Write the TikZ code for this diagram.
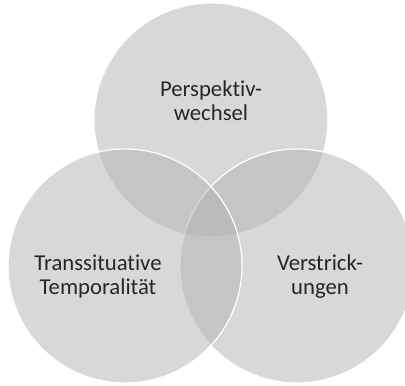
\documentclass[tikz,border=0pt]{standalone}
\usepackage{fontspec}
\setmainfont{Carlito}[Ligatures=NoCommon]
\definecolor{ringgray}{RGB}{178,178,178}
\definecolor{labelgray}{RGB}{38,38,38}
\begin{document}
\begin{tikzpicture}[x=1pt, y=1pt]
\tikzset{ring/.style={fill=ringgray, fill opacity=0.5, draw=white, line width=1.2pt},
  lbl/.style={align=center, text=labelgray, font=\fontsize{22.7}{24}\selectfont}}
\useasboundingbox (0,0) rectangle (405,386);
\clip (0,0) rectangle (405,386);
\draw [ring] (211,266) circle [radius=117];
\draw [ring] (297,120) circle [radius=117];
\draw [ring] (125,120) circle [radius=117];
\node [lbl] (perspektiv) at (211,285) {Perspektiv-\\wechsel};
\node [lbl] (transsit) at (98,109) {Transsituative\\Temporalität};
\node [lbl] (verstrick) at (320,109) {Verstrick-\\ungen};
\end{tikzpicture}
\end{document}
